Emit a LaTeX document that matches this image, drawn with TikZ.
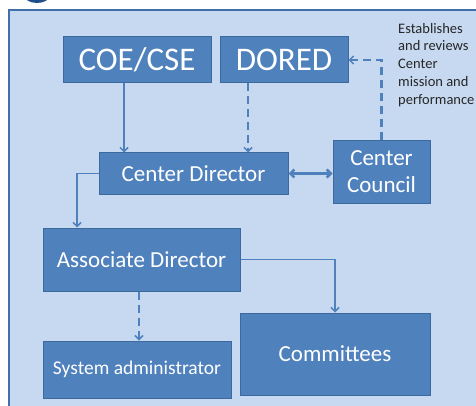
\documentclass[tikz,border=0pt]{standalone}
\usepackage{fontspec}
\setmainfont{Carlito}
\usepackage{xcolor}
\usetikzlibrary{arrows.meta}
\definecolor{panelbg}{HTML}{C6D9F0}
\definecolor{panelline}{HTML}{4170A8}
\definecolor{boxfill}{HTML}{4F81BD}
\definecolor{boxline}{HTML}{3D6A9E}
\definecolor{logoblue}{HTML}{1F4E8C}
\tikzset{
    unit/.style={draw=boxline,fill=boxfill,line width=1pt,text=white,inner sep=0pt,align=center},
    link/.style={draw=boxfill,line width=1.5pt,-{Straight Barb[length=4pt,width=8pt,line width=1.5pt]}},
    dashlink/.style={link,line width=2.5pt,dash pattern=on 8pt off 5pt},
    twoway/.style={draw=boxfill,line width=2.5pt,{Straight Barb[length=4pt,width=8pt]}-{Straight Barb[length=4pt,width=8pt]}}
}
\begin{document}
\begin{tikzpicture}[x=1pt,y=-1pt]
    \useasboundingbox (0,0) rectangle (476,406);
    \fill[white] (0,0) rectangle (476,406);
    \fill[logoblue] (37,-5) ellipse (13 and 8);
    \draw[panelline,line width=1.5pt,fill=panelbg] (9,10) rectangle (490,420);
    \node[unit,minimum width=148pt,minimum height=46pt,font=\fontsize{33}{35}\selectfont] (coe) at (137,60) {COE/CSE};
    \node[unit,minimum width=128pt,minimum height=46pt,font=\fontsize{33}{35}\selectfont] (dored) at (284,60) {DORED};
    \node[unit,minimum width=189pt,minimum height=41pt,font=\fontsize{23}{25}\selectfont] (cdir) at (193.5,173.5) {Center Director};
    \node[unit,minimum width=97pt,minimum height=62pt,font=\fontsize{23}{27}\selectfont] (council) at (381.5,172) {Center\\Council};
    \node[unit,minimum width=197pt,minimum height=63pt,font=\fontsize{23}{25}\selectfont] (assoc) at (141.5,259.5) {Associate Director};
    \node[unit,minimum width=188pt,minimum height=57pt,font=\fontsize{19.5}{21}\selectfont] (sysadm) at (137,369.5) {System administrator};
    \node[unit,minimum width=190pt,minimum height=82pt,font=\fontsize{23}{25}\selectfont] (cmte) at (335,354) {Committees};
    \node[anchor=north west,inner sep=0pt,align=left,text=black!85,font=\fontsize{14.5}{17.7}\selectfont] (note) at (398,23) {Establishes\\and reviews\\Center\\mission and\\performance};
    \draw[link] ([xshift=-13pt]coe.south) to ([xshift=-13pt]coe.south |- cdir.north);
    \draw[dashlink] ([xshift=-36pt]dored.south) to ([xshift=-36pt]dored.south |- cdir.north);
    \draw[twoway] (cdir.east) to (cdir.east -| council.west);
    \draw[dashlink] (council.north) |- (dored.east);
    \draw[link] (cdir.west) -| ([xshift=-64.5pt]assoc.north);
    \draw[link] (assoc.east) -| (cmte.north);
    \draw[dashlink] ([xshift=-2.5pt]assoc.south) to ([xshift=-2.5pt]assoc.south |- sysadm.north);
\end{tikzpicture}
\end{document}
